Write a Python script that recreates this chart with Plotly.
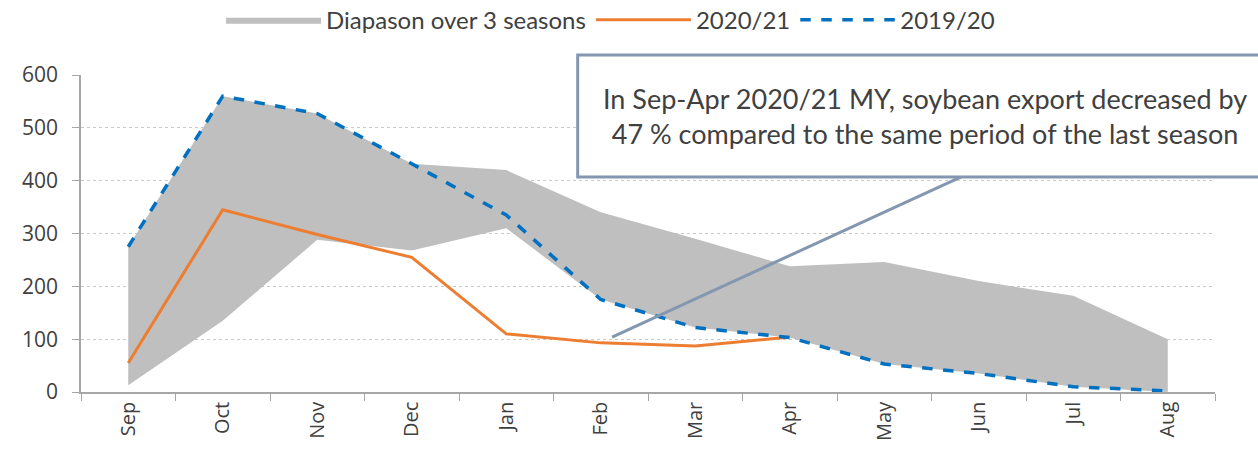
import plotly.graph_objects as go

months = ["Sep", "Oct", "Nov", "Dec", "Jan", "Feb", "Mar", "Apr", "May", "Jun", "Jul", "Aug"]
range_upper = [275, 560, 527, 432, 420, 340, 290, 238, 246, 210, 182, 100]
range_lower = [13, 135, 288, 268, 310, 175, 122, 103, 53, 35, 10, 0]
season_2020_21 = [55, 345, 298, 255, 110, 93, 87, 104]
season_2019_20 = [275, 560, 527, 432, 335, 175, 122, 103, 53, 35, 10, 2]

note_text = "In Sep-Apr 2020/21 MY, soybean export decreased by<br>47 % compared to the same period of the last season"

FONT = "Lato"
TICKFONT = "Open Sans"
TXT = "#404040"

fig = go.Figure()
fig.add_trace(go.Scatter(x=months, y=range_upper, mode="lines", line=dict(width=0, color="#BFBFBF"),
                         showlegend=False, hoverinfo="skip"))
fig.add_trace(go.Scatter(x=months, y=range_lower, mode="lines", line=dict(width=0, color="#BFBFBF"),
                         fill="tonexty", fillcolor="#BFBFBF", name="Diapason over 3 seasons"))
fig.add_trace(go.Scatter(x=months[:len(season_2020_21)], y=season_2020_21, mode="lines",
                         line=dict(color="#ED7D31", width=3), name="2020/21"))
fig.add_trace(go.Scatter(x=months, y=season_2019_20, mode="lines",
                         line=dict(color="#0070C0", width=3.5, dash="dash"), name="2019/20"))

# callout box and pointer
fig.add_shape(type="line", xref="x", yref="y", x0=5.12, y0=104, x1=8.86, y1=411,
              line=dict(color="#8497B0", width=3))
fig.add_shape(type="rect", xref="paper", yref="paper", x0=0.438, x1=1.045, y0=0.678, y1=1.063,
              line=dict(color="#8497B0", width=3), fillcolor="white")
fig.add_annotation(xref="paper", yref="paper", x=0.744, y=0.87, xanchor="center", yanchor="middle",
                   text=note_text, showarrow=False,
                   font=dict(family=FONT, size=27, color=TXT), align="center")

fig.update_layout(
    width=1258, height=455,
    margin=dict(l=81, r=43, t=75, b=63, autoexpand=False),
    paper_bgcolor="white", plot_bgcolor="white",
    font=dict(family=FONT, size=18, color=TXT),
    legend=dict(orientation="h", x=0.467, xanchor="center", y=1.173, yanchor="middle",
                font=dict(family=FONT, size=24, color=TXT), traceorder="normal", itemwidth=95),
    showlegend=True,
)
fig.update_xaxes(type="category", categoryorder="array", categoryarray=months, range=[-0.5, 11.5],
                 tickangle=-90, tickson="boundaries", ticks="outside", ticklen=7, automargin=False,
                 tickcolor="#A6A6A6", showline=True, linecolor="#A6A6A6", linewidth=1.5,
                 showgrid=False, tickfont=dict(family=TICKFONT, size=20, color=TXT))
fig.update_yaxes(range=[0, 600], dtick=100, showgrid=True, gridcolor="#C8C8C8", griddash="dot",
                 showline=True, linecolor="#A6A6A6", linewidth=1.5, ticks="outside", ticklen=7,
                 automargin=False, ticklabelstandoff=10,
                 tickcolor="#A6A6A6", zeroline=False, tickfont=dict(family=TICKFONT, size=21, color=TXT))

fig.write_html("out.html", config={"displayModeBar": False},
               post_script="document.body.style.margin='0';")
